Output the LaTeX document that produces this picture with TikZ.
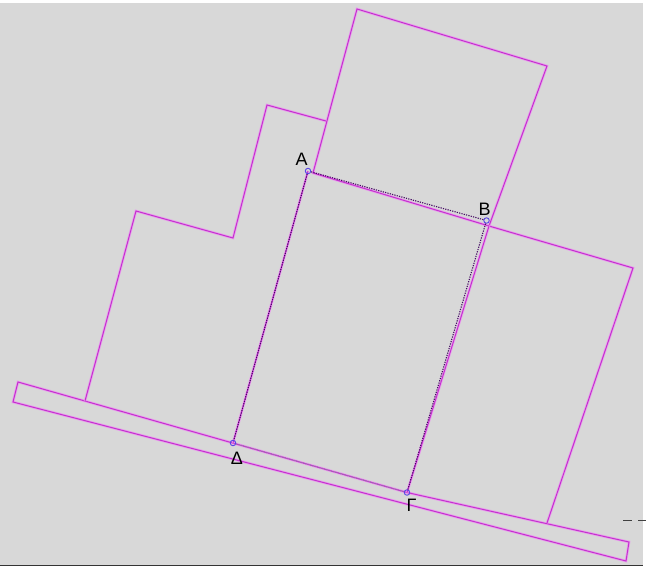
\documentclass[tikz,border=0pt]{standalone}
\usepackage{fontspec}
\setmainfont{Liberation Sans}
\definecolor{bg}{RGB}{216,216,216}
\definecolor{mag}{RGB}{196,50,206}
\definecolor{halo}{RGB}{232,160,236}
\definecolor{dotc}{RGB}{70,10,100}
\definecolor{ptc}{RGB}{90,70,230}
\begin{document}
\begin{tikzpicture}[x=1pt,y=-1pt,
  pinkline/.style={draw=mag, line width=1pt, line join=miter, preaction={draw=halo, line width=2.6pt}},
  dotline/.style={draw=dotc, line width=1.1pt, dash pattern=on 1.2pt off 1.2pt},
  pt/.style={circle, draw=ptc, line width=0.9pt, minimum size=5.5pt, inner sep=0pt},
  lbl/.style={font=\fontsize{18}{20}\selectfont, inner sep=0pt, text=black}]
\useasboundingbox (0,0) rectangle (647,570);
\fill[white] (0,0) rectangle (647,570);
\fill[bg] (0,3) rectangle (643,565);
\draw[black!80, line width=1pt] (0,565.5) -- (643,565.5);
% vertices
\coordinate (s1) at (18,382);
\coordinate (s2) at (629,542);
\coordinate (s3) at (626,561);
\coordinate (s4) at (13,402);
\coordinate (t1) at (357,9);
\coordinate (t2) at (547,66);
\coordinate (t3) at (489,226);
\coordinate (t4) at (313,173);
\coordinate (r1) at (633,268);
\coordinate (r2) at (547,523);
\coordinate (l1) at (85,401);
\coordinate (l2) at (136,211);
\coordinate (l3) at (233,238);
\coordinate (l4) at (267,105);
\coordinate (l5) at (326,121);
\coordinate (pA) at (308,171);
\coordinate (pB) at (486.5,220.5);
\coordinate (pD) at (233,443);
\coordinate (pG) at (407,492.5);
% pink outlines
\path[pinkline] (s1) -- (pG) -- (s2) -- (s3) -- (s4) -- cycle;
\path[pinkline] (t1) -- (t2) -- (t3) -- (t4) -- cycle;
\path[pinkline] (t3) -- (r1) -- (r2);
\path[pinkline] (t3) -- (pG);
\path[pinkline] (pA) -- (pD);
\path[pinkline] (l1) -- (l2) -- (l3) -- (l4) -- (l5);
% points
\node[pt] (A) at (pA) {};
\node[pt] (B) at (pB) {};
\node[pt] (D) at (pD) {};
\node[pt] (G) at (pG) {};
% dotted lines
\draw[dotline] (A) -- (B);
\draw[dotline] (B) -- (G);
\draw[dotline] (A) -- (D);
\draw[dotline, draw=dotc!55] (D) -- (G);
% labels
\node[lbl] (lA) at (301.5,159) {A};
\node[lbl] (lB) at (484.5,209.5) {B};
\node[lbl] (lD) at (237,458.5) {Δ};
\node[lbl] (lG) at (411.5,505) {Γ};
% dashes at right edge
\coordinate (d1) at (623,520.5);
\coordinate (d2) at (632,520.5);
\coordinate (d3) at (638,520.5);
\coordinate (d4) at (646,520.5);
\draw[black!75, line width=1pt] (d1) -- (d2);
\draw[black!75, line width=1pt] (d3) -- (d4);
\end{tikzpicture}
\end{document}
